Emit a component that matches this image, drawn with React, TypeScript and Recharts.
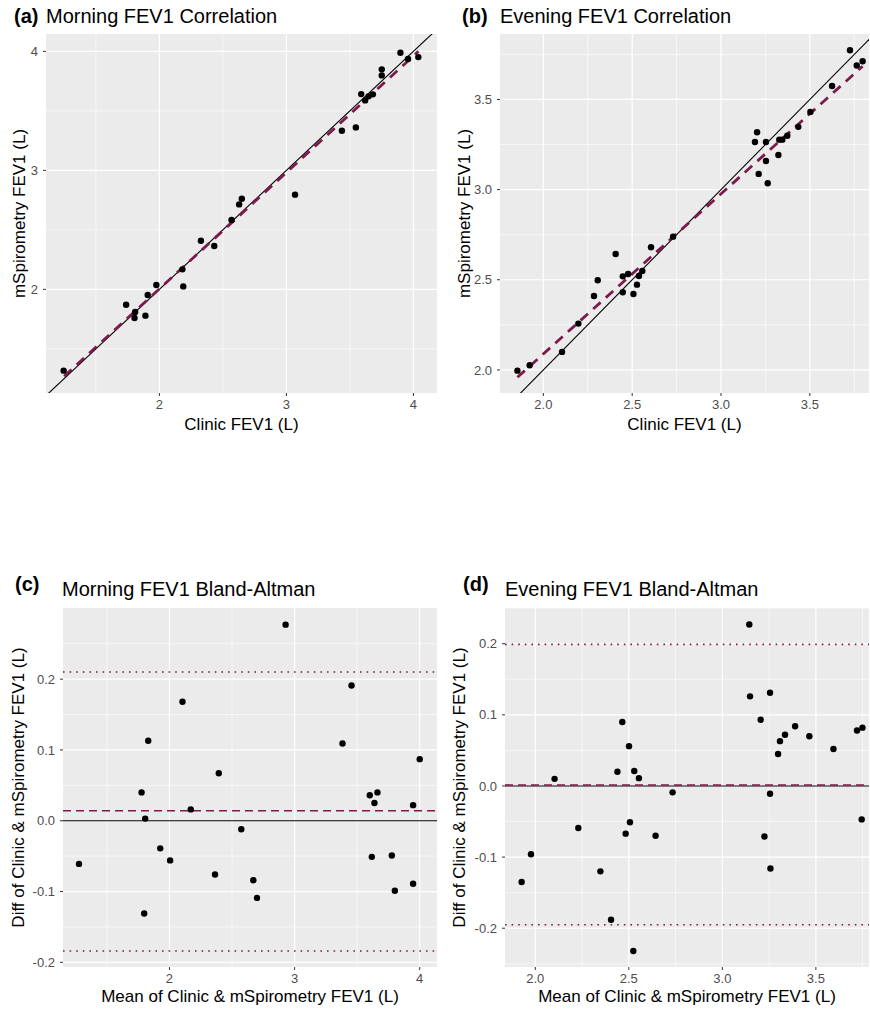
import React from 'react';
import { ScatterChart, Scatter, XAxis, YAxis, CartesianGrid, ReferenceLine } from 'recharts';

// (a) morning correlation
const morningClinic = [1.246, 1.738, 1.804, 1.809, 1.89, 1.908, 1.976, 2.181, 2.188, 2.327, 2.432, 2.568, 2.628, 2.649, 3.068, 3.437, 3.547, 3.589, 3.62, 3.647, 3.681, 3.751, 3.751, 3.898, 3.958, 4.039];
const morningMspiro = [1.317, 1.871, 1.759, 1.81, 1.779, 1.952, 2.036, 2.168, 2.025, 2.409, 2.364, 2.583, 2.714, 2.762, 2.796, 3.333, 3.361, 3.641, 3.588, 3.622, 3.639, 3.849, 3.798, 3.989, 3.936, 3.952];
const morningFit = [{ x: 1.25, y: 1.27 }, { x: 4.04, y: 4.0 }];

// (b) evening correlation
const eveningClinic = [1.854, 1.923, 2.105, 2.197, 2.285, 2.306, 2.407, 2.447, 2.447, 2.477, 2.507, 2.527, 2.538, 2.557, 2.606, 2.73, 3.191, 3.203, 3.212, 3.253, 3.253, 3.263, 3.323, 3.328, 3.345, 3.373, 3.435, 3.503, 3.625, 3.726, 3.764, 3.797];
const eveningMspiro = [1.996, 2.026, 2.1, 2.257, 2.41, 2.497, 2.643, 2.519, 2.431, 2.532, 2.421, 2.473, 2.521, 2.549, 2.68, 2.739, 3.264, 3.318, 3.087, 3.264, 3.159, 3.035, 3.192, 3.277, 3.277, 3.299, 3.348, 3.431, 3.575, 3.773, 3.688, 3.712];
const eveningFit = [{ x: 1.854, y: 1.959 }, { x: 3.797, y: 3.684 }];

// (c) morning Bland-Altman
const morningMean = [1.277, 1.777, 1.806, 1.83, 1.798, 1.926, 2.005, 2.104, 2.17, 2.364, 2.394, 2.574, 2.67, 2.699, 2.928, 3.383, 3.455, 3.601, 3.617, 3.638, 3.662, 3.777, 3.801, 3.947, 3.947, 4.0];
const morningDiff = [-0.061, 0.04, 0.003, 0.113, -0.131, -0.039, -0.056, 0.168, 0.016, -0.076, 0.067, -0.012, -0.084, -0.109, 0.277, 0.109, 0.191, 0.036, -0.051, 0.025, 0.04, -0.049, -0.099, -0.089, 0.022, 0.087];
const morningBias = 0.014;
const morningLimits = [-0.184, 0.21];

// (d) evening Bland-Altman
const eveningMean = [1.927, 1.977, 2.103, 2.23, 2.348, 2.405, 2.439, 2.465, 2.483, 2.501, 2.506, 2.524, 2.529, 2.554, 2.643, 2.734, 3.144, 3.148, 3.205, 3.225, 3.255, 3.255, 3.257, 3.298, 3.308, 3.335, 3.389, 3.465, 3.594, 3.72, 3.749, 3.745];
const eveningDiff = [-0.135, -0.096, 0.01, -0.059, -0.12, -0.188, 0.02, 0.09, -0.067, 0.056, -0.051, -0.232, 0.021, 0.011, -0.07, -0.009, 0.227, 0.126, 0.093, -0.071, 0.131, -0.011, -0.116, 0.045, 0.063, 0.072, 0.084, 0.07, 0.052, 0.078, 0.082, -0.047];
const eveningBias = 0.0015;
const eveningLimits = [-0.195, 0.199];

// ticks
const ticksWhole = [2, 3, 4];
const minorWhole = [1.5, 2.5, 3.5];
const ticksHalf = [2.0, 2.5, 3.0, 3.5];
const minorHalf = [1.75, 2.25, 2.75, 3.25, 3.75];
const ticksDiff = [-0.2, -0.1, 0, 0.1, 0.2];
const minorDiff = [-0.25, -0.15, -0.05, 0.05, 0.15, 0.25];
const identityLine = [0, 5];

const MAROON = '#7D1A4B';
const FONT = '"Liberation Sans", Arial, Helvetica, sans-serif';

const zip = (xs: number[], ys: number[]) => xs.map((x, i) => ({ x, y: ys[i] }));

const Dot = (p: any) => <circle cx={p.cx} cy={p.cy} r={3.2} fill="#000" />;

const fmt1 = (v: number) => v.toFixed(1);
const fmt0 = (v: number) => String(v);

interface PanelProps {
  left: number;
  top: number;
  width: number;
  height: number;
  marginTop: number;
  marginRight: number;
  yWidth: number;
  xHeight: number;
  xDomain: number[];
  yDomain: number[];
  xTicks: number[];
  yTicks: number[];
  xMinor: number[];
  yMinor: number[];
  xFmt: (v: number) => string;
  yFmt: (v: number) => string;
  xLabel: string;
  yLabel: string;
  xLabelOffset: number;
  yLabelOffset: number;
  points: { x: number; y: number }[];
  children?: React.ReactNode;
}

function Panel(p: PanelProps) {
  const tick = { fill: '#4D4D4D', fontSize: 13 };
  return (
    <div style={{ position: 'absolute', left: p.left, top: p.top }}>
      <ScatterChart
        width={p.width}
        height={p.height}
        margin={{ top: p.marginTop, right: p.marginRight, bottom: 0, left: 0 }}
      >
        <CartesianGrid fill="#EBEBEB" stroke="#FFFFFF" strokeWidth={0.6} horizontalValues={p.yMinor} verticalValues={p.xMinor} />
        <CartesianGrid stroke="#FFFFFF" strokeWidth={1.2} horizontalValues={p.yTicks} verticalValues={p.xTicks} />
        <XAxis
          type="number"
          dataKey="x"
          domain={p.xDomain}
          allowDataOverflow
          ticks={p.xTicks}
          interval={0}
          tickFormatter={p.xFmt}
          height={p.xHeight}
          axisLine={false}
          tickLine={{ stroke: '#333333' }}
          tickSize={3}
          tickMargin={4}
          tick={tick}
          label={{ value: p.xLabel, position: 'insideBottom', offset: p.xLabelOffset, style: { fill: '#000', fontSize: 17 } }}
        />
        <YAxis
          type="number"
          dataKey="y"
          domain={p.yDomain}
          allowDataOverflow
          ticks={p.yTicks}
          interval={0}
          tickFormatter={p.yFmt}
          width={p.yWidth}
          axisLine={false}
          tickLine={{ stroke: '#333333' }}
          tickSize={3}
          tickMargin={5}
          tick={tick}
          label={{ value: p.yLabel, angle: -90, position: 'insideLeft', offset: p.yLabelOffset, style: { fill: '#000', fontSize: 17, textAnchor: 'middle' } }}
        />
        {p.children}
        <Scatter data={p.points} shape={Dot} isAnimationActive={false} />
      </ScatterChart>
    </div>
  );
}

function Titles() {
  const t = { fontFamily: FONT, fontSize: 20, fill: '#000' };
  return (
    <svg width={870} height={1010} style={{ position: 'absolute', left: 0, top: 0, pointerEvents: 'none' }}>
      <text x={14} y={23} {...t} fontWeight="bold">(a)</text>
      <text x={46} y={23} {...t}>Morning FEV1 Correlation</text>
      <text x={462} y={23} {...t} fontWeight="bold">(b)</text>
      <text x={500} y={23} {...t}>Evening FEV1 Correlation</text>
      <text x={15} y={591} {...t} fontWeight="bold">(c)</text>
      <text x={62} y={596} {...t}>Morning FEV1 Bland-Altman</text>
      <text x={463} y={591} {...t} fontWeight="bold">(d)</text>
      <text x={505} y={596} {...t}>Evening FEV1 Bland-Altman</text>
    </svg>
  );
}

export default function App() {
  const identity = identityLine.map((v) => ({ x: v, y: v }));
  return (
    <div style={{ position: 'absolute', left: 0, top: 0, width: 870, height: 1010, background: '#fff', fontFamily: FONT, overflow: 'hidden' }}>
      <Panel
        left={0} top={0} width={440} height={440} marginTop={34} marginRight={3} yWidth={46} xHeight={47}
        xDomain={[1.107, 4.186]} yDomain={[1.129, 4.146]}
        xTicks={ticksWhole} yTicks={ticksWhole} xMinor={minorWhole} yMinor={minorWhole}
        xFmt={fmt0} yFmt={fmt0}
        xLabel="Clinic FEV1 (L)" yLabel="mSpirometry FEV1 (L)" xLabelOffset={10} yLabelOffset={19}
        points={zip(morningClinic, morningMspiro)}
      >
        <ReferenceLine segment={identity} stroke="#000" strokeWidth={1.1} ifOverflow="hidden" />
        <ReferenceLine segment={morningFit} stroke={MAROON} strokeWidth={2.8} strokeDasharray="10 7" ifOverflow="hidden" />
      </Panel>
      <Panel
        left={440} top={0} width={430} height={440} marginTop={34} marginRight={1} yWidth={60} xHeight={47}
        xDomain={[1.756, 3.833]} yDomain={[1.872, 3.863]}
        xTicks={ticksHalf} yTicks={ticksHalf} xMinor={minorHalf} yMinor={minorHalf}
        xFmt={fmt1} yFmt={fmt1}
        xLabel="Clinic FEV1 (L)" yLabel="mSpirometry FEV1 (L)" xLabelOffset={10} yLabelOffset={23.5}
        points={zip(eveningClinic, eveningMspiro)}
      >
        <ReferenceLine segment={identity} stroke="#000" strokeWidth={1.1} ifOverflow="hidden" />
        <ReferenceLine segment={eveningFit} stroke={MAROON} strokeWidth={2.8} strokeDasharray="10 7" ifOverflow="hidden" />
      </Panel>
      <Panel
        left={0} top={570} width={440} height={440} marginTop={38} marginRight={3} yWidth={63} xHeight={43}
        xDomain={[1.149, 4.138]} yDomain={[-0.2066, 0.3005]}
        xTicks={ticksWhole} yTicks={ticksDiff} xMinor={minorWhole} yMinor={minorDiff}
        xFmt={fmt0} yFmt={fmt1}
        xLabel="Mean of Clinic & mSpirometry FEV1 (L)" yLabel="Diff of Clinic & mSpirometry FEV1 (L)" xLabelOffset={8} yLabelOffset={17.5}
        points={zip(morningMean, morningDiff)}
      >
        <ReferenceLine y={0} stroke="#000" strokeWidth={1.1} />
        <ReferenceLine y={morningBias} stroke={MAROON} strokeWidth={1.5} strokeDasharray="8 5" />
        {morningLimits.map((v) => (
          <ReferenceLine key={v} y={v} stroke={MAROON} strokeWidth={1.6} strokeDasharray="1.6 5" />
        ))}
      </Panel>
      <Panel
        left={440} top={570} width={430} height={440} marginTop={38} marginRight={1} yWidth={65} xHeight={43}
        xDomain={[1.838, 3.784]} yDomain={[-0.2545, 0.2502]}
        xTicks={ticksHalf} yTicks={ticksDiff} xMinor={minorHalf} yMinor={minorDiff}
        xFmt={fmt1} yFmt={fmt1}
        xLabel="Mean of Clinic & mSpirometry FEV1 (L)" yLabel="Diff of Clinic & mSpirometry FEV1 (L)" xLabelOffset={8} yLabelOffset={19}
        points={zip(eveningMean, eveningDiff)}
      >
        <ReferenceLine y={0} stroke="#000" strokeWidth={1.1} />
        <ReferenceLine y={eveningBias} stroke={MAROON} strokeWidth={1.5} strokeDasharray="8 5" />
        {eveningLimits.map((v) => (
          <ReferenceLine key={v} y={v} stroke={MAROON} strokeWidth={1.6} strokeDasharray="1.6 5" />
        ))}
      </Panel>
      <Titles />
    </div>
  );
}
